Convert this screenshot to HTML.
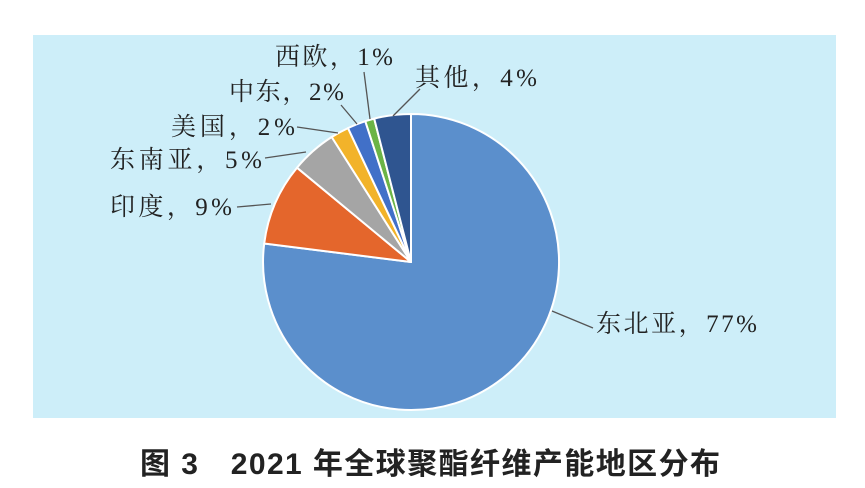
<!DOCTYPE html>
<html><head><meta charset="utf-8"><style>
html,body{margin:0;padding:0;background:#fff;}
body{width:865px;height:483px;position:relative;overflow:hidden;}
</style></head><body>
<svg width="865" height="483" viewBox="0 0 865 483" xmlns="http://www.w3.org/2000/svg">
<rect x="33" y="35" width="803" height="383" fill="#cdeef9"/>
<g stroke="#fff" stroke-width="2" stroke-linejoin="round">
<path d="M411,262 L411,114 A148,148 0 1 1 264.2,243.5 Z" fill="#5b8fcc"/>
<path d="M411,262 L264.2,243.5 A148,148 0 0 1 297.0,167.7 Z" fill="#e4662c"/>
<path d="M411,262 L297.0,167.7 A148,148 0 0 1 331.7,137.0 Z" fill="#a5a5a5"/>
<path d="M411,262 L331.7,137.0 A148,148 0 0 1 348.0,128.1 Z" fill="#f2b32a"/>
<path d="M411,262 L348.0,128.1 A148,148 0 0 1 365.3,121.2 Z" fill="#4170c8"/>
<path d="M411,262 L365.3,121.2 A148,148 0 0 1 374.2,118.6 Z" fill="#6bb446"/>
<path d="M411,262 L374.2,118.6 A148,148 0 0 1 411,114 Z" fill="#2f5590"/>
</g>
<g stroke="#555" stroke-width="1.3" fill="none">
<line x1="552" y1="311" x2="593" y2="328"/>
<line x1="237" y1="207" x2="271" y2="204"/>
<line x1="265" y1="158" x2="306" y2="152"/>
<line x1="297" y1="127" x2="338" y2="133"/>
<line x1="341" y1="105" x2="357" y2="124"/>
<line x1="364" y1="72" x2="370" y2="119"/>
<line x1="393" y1="116" x2="420" y2="89"/>
</g>
<g font-family="Liberation Serif, Noto Serif CJK SC, serif" font-size="25" fill="#222" lengthAdjust="spacing">
<text x="596" y="332" textLength="161">东北亚，77%</text>
<text x="110" y="215" textLength="122">印度，9%</text>
<text x="110" y="168" textLength="152">东南亚，5%</text>
<text x="171" y="135" textLength="124">美国，2%</text>
<text x="229" y="100" textLength="115">中东，2%</text>
<text x="275" y="65" textLength="118">西欧，1%</text>
<text x="415" y="86" textLength="122">其他，4%</text>
</g>
<text x="140" y="474" font-family="Liberation Sans, Noto Sans CJK SC, sans-serif" font-size="30" font-weight="bold" fill="#222" textLength="580" lengthAdjust="spacing">图 3　2021 年全球聚酯纤维产能地区分布</text>
</svg>
</body></html>
